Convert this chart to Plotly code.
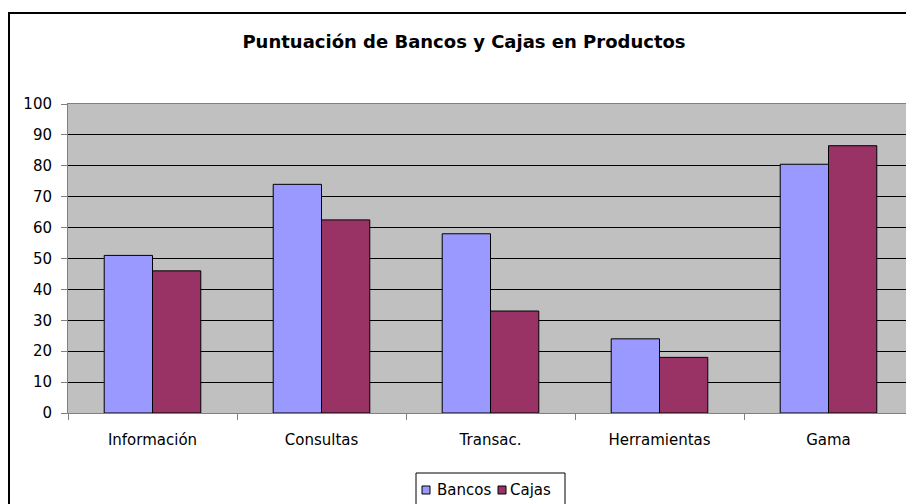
import plotly.graph_objects as go

categories = ["Información", "Consultas", "Transac.", "Herramientas", "Gama"]
bancos = [51, 74, 58, 24, 80.5]
cajas = [46, 62.5, 33, 18, 86.5]
y_ticks = list(range(0, 101, 10))
series_names = ["Bancos", "Cajas"]
series_colors = ["#9999FF", "#993366"]

# page body has an 8px margin, so the figure is sized to fill the rest of the window
W, H = 906, 496
L, R, T, B = 60, 1, 96, 91
pw, ph = W - L - R, H - T - B
bottom_px = T + ph


def px_x(v):
    return (v - L) / pw


def px_y(v):
    return (bottom_px - v) / ph


fig = go.Figure()
for name, vals, col in zip(series_names, [bancos, cajas], series_colors):
    fig.add_trace(go.Bar(name=name, x=categories, y=vals, showlegend=False,
                         marker=dict(color=col, line=dict(color="#000000", width=1))))

font_family = "DejaVu Sans"

# outer chart border (extends beyond the cropped picture on right/bottom)
fig.add_shape(type="rect", xref="paper", yref="paper",
              x0=px_x(1), x1=px_x(990), y0=px_y(560), y1=px_y(5),
              line=dict(color="#000000", width=2), fillcolor="rgba(0,0,0,0)", layer="below")

# legend box drawn by hand (compact Excel style)
fig.add_shape(type="rect", xref="paper", yref="paper",
              x0=px_x(408), x1=px_x(557), y0=px_y(520), y1=px_y(465),
              line=dict(color="#000000", width=1), fillcolor="#FFFFFF")
leg_items = [(414, 429), (490, 502)]
for (sx, tx), name, col in zip(leg_items, series_names, series_colors):
    fig.add_shape(type="rect", xref="paper", yref="paper",
                  x0=px_x(sx), x1=px_x(sx + 8), y0=px_y(486), y1=px_y(478),
                  line=dict(color="#000000", width=1), fillcolor=col)
    fig.add_annotation(text=name, xref="paper", yref="paper",
                       x=px_x(tx - 2), y=px_y(482), xanchor="left", yanchor="middle",
                       showarrow=False,
                       font=dict(family=font_family, size=15, color="#000000"))

fig.update_layout(
    width=W, height=H,
    margin=dict(l=L, r=R, t=T, b=B),
    paper_bgcolor="#FFFFFF",
    plot_bgcolor="#C0C0C0",
    barmode="group",
    bargap=1.5 / 3.5,
    bargroupgap=0,
    showlegend=False,
    font=dict(family=font_family, size=15, color="#000000"),
    title=dict(text="<b>Puntuación de Bancos y Cajas en Productos</b>",
               x=456 / W, xanchor="center", y=1 - 34 / H, yanchor="middle",
               yref="container", xref="container",
               font=dict(family=font_family, size=18, color="#000000")),
    xaxis=dict(type="category", tickson="boundaries", ticks="outside", ticklen=6,
               tickcolor="#808080", showline=True, linecolor="#808080", linewidth=1,
               mirror=True, showgrid=False, range=[-0.5, 4.5],
               ticklabelstandoff=13,
               tickfont=dict(family=font_family, size=15, color="#000000")),
    yaxis=dict(range=[0, 100], tickvals=y_ticks, ticks="outside", ticklen=6,
               tickcolor="#808080", showline=True, linecolor="#808080", linewidth=1,
               mirror=True, showgrid=True, gridcolor="#000000", gridwidth=1,
               zeroline=False, ticklabelstandoff=6,
               tickfont=dict(family=font_family, size=15, color="#000000")),
)

fig.write_html("out.html")
